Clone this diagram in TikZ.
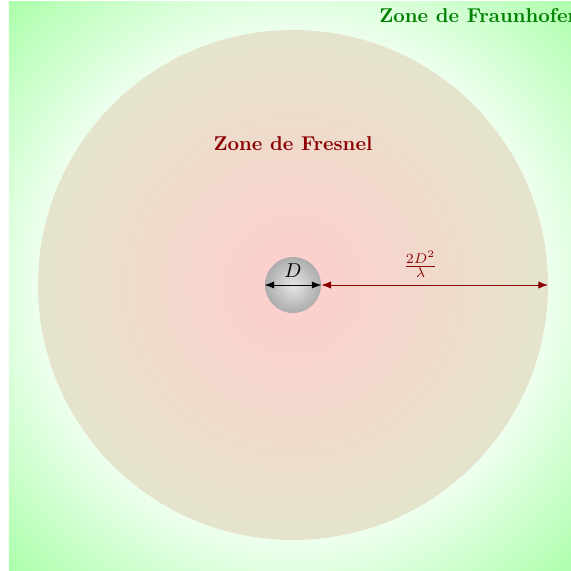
\documentclass[tikz,border=0pt]{standalone}
\usetikzlibrary{arrows.meta}
\definecolor{fresnelred}{RGB}{139,0,0}
\definecolor{fraungreen}{RGB}{0,128,0}
\definecolor{nearpink}{RGB}{255,205,205}
\definecolor{nearbeige}{RGB}{228,228,204}
\pgfdeclareradialshading{farfield}{\pgfpoint{0bp}{0bp}}{color(0bp)=(white); color(19bp)=(white); color(35.4bp)=(green!33!white); color(50bp)=(green!33!white)}
\pgfdeclareradialshading{nearfield}{\pgfpoint{0bp}{0bp}}{color(0bp)=(nearpink); color(25bp)=(nearbeige); color(50bp)=(nearbeige)}
\pgfdeclareradialshading{sphere}{\pgfpoint{0bp}{0bp}}{color(0bp)=(gray!20); color(25bp)=(gray!65); color(50bp)=(gray!65)}

\begin{document}
\begin{tikzpicture}[>=Latex]
\useasboundingbox (-146.5pt,-143pt) rectangle (139pt,142.5pt);
\shade[shading=farfield] (-142pt,-142.5pt) rectangle (142pt,141.5pt);
\shade[shading=nearfield] (0,0) circle (127.5pt);
\node[circle,minimum size=28pt,inner sep=0pt,shading=sphere] (obj) at (0,0) {};
\coordinate (edge) at (127.5pt,0);
\draw[<->] (obj.west) -- (obj.east) node[midway,above] {$D$};
\draw[<->,fresnelred] (obj.east) -- (edge);
\node[above,fresnelred] at (63.75pt,0) {$\frac{2D^2}{\lambda}$};
\node[anchor=base,fresnelred] (fresnel) at (0,67pt) {\bfseries Zone de Fresnel};
\node[anchor=base west,inner sep=0pt,fraungreen] (fraunhofer) at (43pt,131.2pt) {\bfseries Zone de Fraunhofer};
\end{tikzpicture}
\end{document}
